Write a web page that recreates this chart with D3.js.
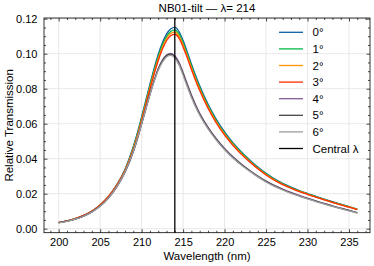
<!DOCTYPE html>
<html>
<head>
<meta charset="utf-8">
<script src="https://cdn.jsdelivr.net/npm/d3@7"></script>
<style>
	body { margin: 0; background: #fff; }
	svg { display: block; font-family: 'Liberation Sans', Arial, sans-serif; }
	.axis text { font-size: 11px; fill: #000; }
	.axis line { stroke: #000; stroke-width: 0.7; }
	.axis path { display: none; }
</style>
</head>
<body>
<div id="app"></div>
<script>
'use strict'

// wavelength samples (nm), denser near the peak
const wavelengths = [200, 201, 202, 203, 204, 205, 206, 207, 208, 209, 209.5, 210, 210.5, 211, 211.5, 212, 212.5, 213, 213.5, 214, 214.5, 215, 215.5, 216, 216.5, 217, 218, 219, 220, 221, 222, 223, 224, 225, 226, 227, 228, 229, 230, 231, 232, 233, 234, 235, 236]

const tilt0 = [0.0035, 0.0044, 0.0057, 0.0075, 0.0100, 0.0135, 0.0183, 0.0250, 0.0340, 0.0470, 0.0550, 0.0640, 0.0733, 0.0826, 0.0915, 0.0995, 0.1062, 0.1112, 0.1141, 0.1150, 0.1127, 0.1075, 0.1010, 0.0942, 0.0877, 0.0817, 0.0712, 0.0625, 0.0553, 0.0492, 0.0440, 0.0394, 0.0352, 0.0316, 0.0285, 0.0259, 0.0237, 0.0218, 0.0201, 0.0185, 0.0169, 0.0154, 0.0140, 0.0126, 0.0112]
const tilt1 = [0.0035, 0.0044, 0.0057, 0.0075, 0.0100, 0.0135, 0.0183, 0.0249, 0.0337, 0.0464, 0.0543, 0.0632, 0.0724, 0.0816, 0.0904, 0.0983, 0.1049, 0.1098, 0.1127, 0.1136, 0.1113, 0.1062, 0.0998, 0.0931, 0.0866, 0.0807, 0.0703, 0.0617, 0.0546, 0.0486, 0.0435, 0.0390, 0.0348, 0.0313, 0.0282, 0.0256, 0.0235, 0.0216, 0.0199, 0.0183, 0.0167, 0.0152, 0.0139, 0.0125, 0.0111]
const tilt2 = [0.0035, 0.0044, 0.0057, 0.0075, 0.0100, 0.0135, 0.0183, 0.0248, 0.0334, 0.0458, 0.0536, 0.0624, 0.0715, 0.0806, 0.0893, 0.0971, 0.1037, 0.1087, 0.1115, 0.1124, 0.1101, 0.1050, 0.0987, 0.0920, 0.0857, 0.0798, 0.0696, 0.0611, 0.0540, 0.0481, 0.0430, 0.0386, 0.0345, 0.0310, 0.0279, 0.0254, 0.0232, 0.0214, 0.0197, 0.0181, 0.0166, 0.0151, 0.0137, 0.0124, 0.0110]
const tilt3 = [0.0036, 0.0045, 0.0058, 0.0076, 0.0101, 0.0136, 0.0184, 0.0249, 0.0333, 0.0453, 0.0529, 0.0616, 0.0706, 0.0796, 0.0882, 0.0960, 0.1025, 0.1074, 0.1102, 0.1111, 0.1089, 0.1038, 0.0976, 0.0910, 0.0847, 0.0789, 0.0688, 0.0604, 0.0534, 0.0476, 0.0426, 0.0382, 0.0342, 0.0307, 0.0277, 0.0252, 0.0231, 0.0212, 0.0196, 0.0180, 0.0165, 0.0150, 0.0136, 0.0123, 0.0109]
const tilt4 = [0.0034, 0.0043, 0.0055, 0.0072, 0.0096, 0.0129, 0.0175, 0.0238, 0.0322, 0.0440, 0.0514, 0.0598, 0.0684, 0.0768, 0.0846, 0.0914, 0.0963, 0.0993, 0.1002, 0.0988, 0.0951, 0.0893, 0.0828, 0.0765, 0.0709, 0.0660, 0.0580, 0.0514, 0.0458, 0.0411, 0.0370, 0.0334, 0.0301, 0.0272, 0.0247, 0.0226, 0.0207, 0.0190, 0.0174, 0.0159, 0.0145, 0.0131, 0.0118, 0.0105, 0.0092]
const tilt5 = [0.0034, 0.0043, 0.0055, 0.0072, 0.0096, 0.0129, 0.0176, 0.0240, 0.0324, 0.0442, 0.0517, 0.0600, 0.0685, 0.0768, 0.0845, 0.0911, 0.0959, 0.0989, 0.0997, 0.0982, 0.0944, 0.0885, 0.0820, 0.0758, 0.0703, 0.0655, 0.0576, 0.0511, 0.0455, 0.0408, 0.0368, 0.0332, 0.0299, 0.0270, 0.0245, 0.0224, 0.0205, 0.0188, 0.0172, 0.0157, 0.0143, 0.0129, 0.0116, 0.0104, 0.0091]
const tilt6 = [0.0033, 0.0042, 0.0054, 0.0071, 0.0095, 0.0128, 0.0176, 0.0240, 0.0325, 0.0443, 0.0518, 0.0600, 0.0684, 0.0765, 0.0840, 0.0904, 0.0951, 0.0981, 0.0990, 0.0975, 0.0936, 0.0876, 0.0811, 0.0750, 0.0696, 0.0648, 0.0570, 0.0506, 0.0451, 0.0404, 0.0364, 0.0329, 0.0296, 0.0267, 0.0242, 0.0221, 0.0202, 0.0186, 0.0170, 0.0155, 0.0141, 0.0127, 0.0115, 0.0102, 0.0089]

const angleLabels = ['0°', '1°', '2°', '3°', '4°', '5°', '6°']
const seriesValues = [tilt0, tilt1, tilt2, tilt3, tilt4, tilt5, tilt6]
const colors = ['#0C5DA5', '#00B945', '#FF9500', '#FF2C00', '#845B97', '#474747', '#9e9e9e']

const centralWavelength = 214
const xTicks = [200, 205, 210, 215, 220, 225, 230, 235]
const yTicks = [0.00, 0.02, 0.04, 0.06, 0.08, 0.10, 0.12]

const main = () => {
	const W = 374, H = 266
	const margin = { top: 18, right: 4, bottom: 33.3, left: 44 }
	const width = W - margin.left - margin.right
	const height = H - margin.top - margin.bottom

	const svg = d3.select('#app')
		.append('svg')
		.attr('width', W)
		.attr('height', H)

	const g = svg.append('g')
		.attr('transform', `translate(${margin.left}, ${margin.top})`)

	const x = d3.scaleLinear()
		.domain([198.23, 237.53])
		.range([0, width])

	const y = d3.scaleLinear()
		.domain([-0.0023, 0.1204])
		.range([height, 0])

	// grid
	g.append('g').selectAll('line')
		.data(xTicks)
		.enter().append('line')
		.attr('x1', d => x(d)).attr('x2', d => x(d))
		.attr('y1', 0).attr('y2', height)
		.style('stroke', '#e2e2e2').style('stroke-width', 0.8)

	g.append('g').selectAll('line')
		.data(yTicks)
		.enter().append('line')
		.attr('x1', 0).attr('x2', width)
		.attr('y1', d => y(d)).attr('y2', d => y(d))
		.style('stroke', '#e2e2e2').style('stroke-width', 0.8)

	// curves
	const line = d3.line()
		.x((d, i) => x(wavelengths[i]))
		.y(d => y(d))
		.curve(d3.curveMonotoneX)

	g.append('g').selectAll('path')
		.data(seriesValues)
		.enter().append('path')
		.attr('d', d => line(d))
		.style('fill', 'none')
		.style('stroke', (d, i) => colors[i])
		.style('stroke-width', 1.3)

	// central wavelength marker
	g.append('line')
		.attr('x1', x(centralWavelength)).attr('x2', x(centralWavelength))
		.attr('y1', 0).attr('y2', height)
		.style('stroke', '#000')
		.style('stroke-width', 1.3)

	// axes, ticks pointing inward on all sides
	const xMinor = d3.range(199, 238, 1).filter(v => v % 5 !== 0)
	const yMinor = d3.range(0.005, 0.12, 0.005).filter((v, i) => (i + 1) % 4 !== 0)

	const addAxis = (axis, transform, labels) => {
		const a = g.append('g')
			.attr('class', 'axis')
			.attr('transform', transform)
			.call(axis)
		if (!labels) a.selectAll('text').remove()
		return a
	}

	addAxis(d3.axisBottom(x).tickValues(xTicks).tickSize(-3.5).tickPadding(5.5).tickFormat(d3.format('d')), `translate(0, ${height})`, true)
	addAxis(d3.axisBottom(x).tickValues(xMinor).tickSize(-2), `translate(0, ${height})`, false)
	addAxis(d3.axisTop(x).tickValues(xTicks).tickSize(-3.5), 'translate(0, 0)', false)
	addAxis(d3.axisTop(x).tickValues(xMinor).tickSize(-2), 'translate(0, 0)', false)
	addAxis(d3.axisLeft(y).tickValues(yTicks).tickSize(-3.5).tickPadding(6.5).tickFormat(d3.format('.2f')), 'translate(0, 0)', true)
	addAxis(d3.axisLeft(y).tickValues(yMinor).tickSize(-2), 'translate(0, 0)', false)
	addAxis(d3.axisRight(y).tickValues(yTicks).tickSize(-3.5), `translate(${width}, 0)`, false)
	addAxis(d3.axisRight(y).tickValues(yMinor).tickSize(-2), `translate(${width}, 0)`, false)

	// frame
	g.append('rect')
		.attr('width', width)
		.attr('height', height)
		.style('fill', 'none')
		.style('stroke', '#000')
		.style('stroke-width', 0.8)

	// legend
	const legendItems = angleLabels.map((d, i) => ({ label: d, color: colors[i] }))
		.concat([{ label: 'Central λ', color: '#000' }])

	const legend = g.append('g')
		.attr('transform', 'translate(235, 14.3)')

	const rows = legend.selectAll('g')
		.data(legendItems)
		.enter().append('g')
		.attr('transform', (d, i) => `translate(0, ${i * 16.6})`)

	rows.append('line')
		.attr('x1', 0).attr('x2', 24)
		.style('stroke', d => d.color)
		.style('stroke-width', 1.3)

	rows.append('text')
		.attr('x', 33.5)
		.attr('dy', '0.35em')
		.style('font-size', '11.5px')
		.text(d => d.label)

	// labels
	svg.append('text')
		.attr('x', margin.left + width / 2)
		.attr('y', 12)
		.style('text-anchor', 'middle')
		.style('font-size', '11.5px')
		.text('NB01-tilt — λ= 214')

	svg.append('text')
		.attr('x', margin.left + width / 2)
		.attr('y', 260)
		.style('text-anchor', 'middle')
		.style('font-size', '11.5px')
		.text('Wavelength (nm)')

	svg.append('text')
		.attr('transform', `translate(12.5, ${margin.top + height / 2}) rotate(-90)`)
		.style('text-anchor', 'middle')
		.style('font-size', '11.5px')
		.text('Relative Transmission')
}

main()
</script>
</body>
</html>
